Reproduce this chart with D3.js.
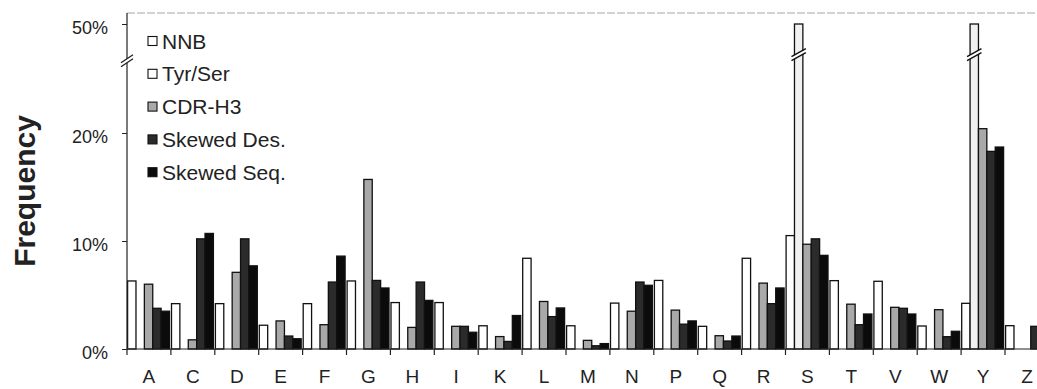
<!DOCTYPE html>
<html>
<head>
<meta charset="utf-8">
<script src="https://cdn.jsdelivr.net/npm/d3@7"></script>
<style>
  html, body { margin: 0; padding: 0; background: #fff; }
  svg { display: block; font-family: "Liberation Sans", Arial, sans-serif; }
</style>
</head>
<body>
<div id="chart"></div>
<script>
// amino acid categories
const categories = ["A","C","D","E","F","G","H","I","K","L","M","N","P","Q","R","S","T","V","W","Y","Z"];

// frequencies, percent
const nnb       = [6.3, 4.2, 4.2, 2.2, 4.2, 6.3, 4.3, 4.3, 2.15, 8.4, 2.15, 4.25, 6.35, 2.1, 8.4, 10.5, 6.33, 6.27, 2.13, 4.23, 2.16];
const tyrSer    = [0, 0, 0, 0, 0, 0, 0, 0, 0, 0, 0, 0, 0, 0, 0, 50, 0, 0, 0, 50, 0];
const cdrH3     = [6.0, 0.85, 7.1, 2.6, 2.25, 15.7, 2.0, 2.1, 1.15, 4.4, 0.8, 3.5, 3.6, 1.23, 6.1, 9.7, 4.15, 3.86, 3.64, 20.4, 0];
const skewedDes = [3.77, 10.2, 10.2, 1.2, 6.2, 6.35, 6.2, 2.1, 0.7, 3.0, 0.3, 6.2, 2.3, 0.74, 4.2, 10.2, 2.25, 3.77, 1.14, 18.3, 2.1];
const skewedSeq = [3.5, 10.7, 7.7, 0.95, 8.6, 5.65, 4.5, 1.55, 3.1, 3.8, 0.5, 5.9, 2.6, 1.2, 5.65, 8.67, 3.24, 3.24, 1.64, 18.7, 2.1];

const seriesNames = ["NNB", "Tyr/Ser", "CDR-H3", "Skewed Des.", "Skewed Seq."];
const seriesValues = [nnb, tyrSer, cdrH3, skewedDes, skewedSeq];
const seriesFills = ["#ffffff", "#f1f1f1", "#a9a9a9", "#2b2b2b", "#0b0b0b"];

const yTicks = [0, 10, 20, 50];
const breakValue = 26.6;   // axis break
const barBreakValue = 31;  // break drawn on the tall bars

(function () {
    const width = 1037, height = 389;
    const axisX = 127, baseY = 349, topY = 13;

    const svg = d3.select("#chart").append("svg").attr("width", width).attr("height", height);

    const x = d3.scaleBand().domain(categories).range([axisX, axisX + 43.9 * categories.length]).padding(0);
    const x1 = d3.scaleBand().domain(seriesNames).range([0.6, x.bandwidth() - 1.4]).padding(0);
    // broken scale: linear to the break, compressed above it
    const y = d3.scaleLinear().domain([0, breakValue, 50]).range([baseY, baseY - breakValue * 10.8, 24]);

    // top border
    svg.append("line")
        .attr("x1", axisX).attr("x2", width).attr("y1", topY).attr("y2", topY)
        .attr("stroke", "#a5a5a5").attr("stroke-width", 1).attr("stroke-dasharray", "8,2");

    // bars
    const rows = [];
    categories.forEach((c, i) => {
        seriesNames.forEach((s, j) => {
            rows.push({ cat: c, series: s, value: seriesValues[j][i], fill: seriesFills[j] });
        });
    });

    svg.append("g").selectAll("rect")
        .data(rows.filter(d => d.value > 0)).enter().append("rect")
        .attr("x", d => x(d.cat) + x1(d.series))
        .attr("y", d => y(d.value))
        .attr("width", x1.bandwidth())
        .attr("height", d => baseY - y(d.value))
        .attr("fill", d => d.fill)
        .attr("stroke", "#111")
        .attr("stroke-width", 1.3);

    // break marks on bars that pass the break
    const tall = rows.filter(d => d.value > breakValue);
    const bb = svg.append("g");
    tall.forEach(d => {
        const bx = x(d.cat) + x1(d.series), bw = x1.bandwidth();
        const yb = y(barBreakValue);
        bb.append("path")
            .attr("d", `M${bx - 3},${yb + 6} L${bx + bw + 3},${yb - 2} L${bx + bw + 3},${yb - 6} L${bx - 3},${yb + 2} Z`)
            .attr("fill", "#fff").attr("stroke", "none");
        [[yb + 6, yb - 2], [yb + 2, yb - 6]].forEach(p => {
            bb.append("line")
                .attr("x1", bx - 3).attr("y1", p[0]).attr("x2", bx + bw + 3).attr("y2", p[1])
                .attr("stroke", "#111").attr("stroke-width", 1.4);
        });
    });

    // y axis
    const yAxis = svg.append("g").attr("transform", `translate(${axisX},0)`)
        .call(d3.axisLeft(y).tickValues(yTicks).tickFormat(d => d + "%").tickSize(5).tickPadding(14));
    yAxis.select(".domain").remove();
    yAxis.selectAll(".tick line").attr("stroke", "#222");
    yAxis.selectAll("text").attr("font-size", 18).attr("fill", "#222").attr("dy", "0.5em")
        .attr("font-family", "'Liberation Sans', Arial, sans-serif");

    svg.append("line")
        .attr("x1", axisX).attr("x2", axisX).attr("y1", topY).attr("y2", baseY)
        .attr("stroke", "#222").attr("stroke-width", 1.2);

    // axis break
    const ya = y(breakValue);
    svg.append("path")
        .attr("d", `M${axisX - 6},${ya + 5} L${axisX + 6},${ya - 3} L${axisX + 6},${ya - 7} L${axisX - 6},${ya + 1} Z`)
        .attr("fill", "#fff");
    [[ya + 5, ya - 3], [ya + 1, ya - 7]].forEach(p => {
        svg.append("line")
            .attr("x1", axisX - 6).attr("y1", p[0]).attr("x2", axisX + 6).attr("y2", p[1])
            .attr("stroke", "#222").attr("stroke-width", 1.4);
    });

    // x axis: line, boundary ticks, centred labels
    svg.append("line")
        .attr("x1", axisX).attr("x2", width).attr("y1", baseY).attr("y2", baseY)
        .attr("stroke", "#222").attr("stroke-width", 1.2);

    svg.append("g").selectAll("line")
        .data(categories).enter().append("line")
        .attr("x1", d => x(d)).attr("x2", d => x(d))
        .attr("y1", baseY).attr("y2", baseY + 6)
        .attr("stroke", "#222").attr("stroke-width", 1.2);

    const xAxis = svg.append("g").attr("transform", `translate(0,${baseY})`)
        .call(d3.axisBottom(x).tickSize(0).tickPadding(21));
    xAxis.select(".domain").remove();
    xAxis.selectAll("text").attr("font-size", 19).attr("fill", "#222")
        .attr("font-family", "'Liberation Sans', Arial, sans-serif");

    // y title
    svg.append("text")
        .attr("transform", `translate(35,191) rotate(-90)`)
        .attr("text-anchor", "middle")
        .attr("font-size", 30).attr("font-weight", "bold").attr("fill", "#222")
        .text("Frequency");

    // legend
    const lg = svg.append("g").attr("transform", "translate(148,41)");
    seriesNames.forEach((s, j) => {
        const row = lg.append("g").attr("transform", `translate(0,${j * 32.8})`);
        row.append("rect").attr("x", 0).attr("y", -4.5).attr("width", 9).attr("height", 9)
            .attr("fill", j === 1 ? "#fff" : seriesFills[j]).attr("stroke", "#111").attr("stroke-width", 1.1);
        row.append("text").attr("x", 14).attr("y", 7.5)
            .attr("font-size", 21).attr("fill", "#222").text(s);
    });
})();
</script>
</body>
</html>
